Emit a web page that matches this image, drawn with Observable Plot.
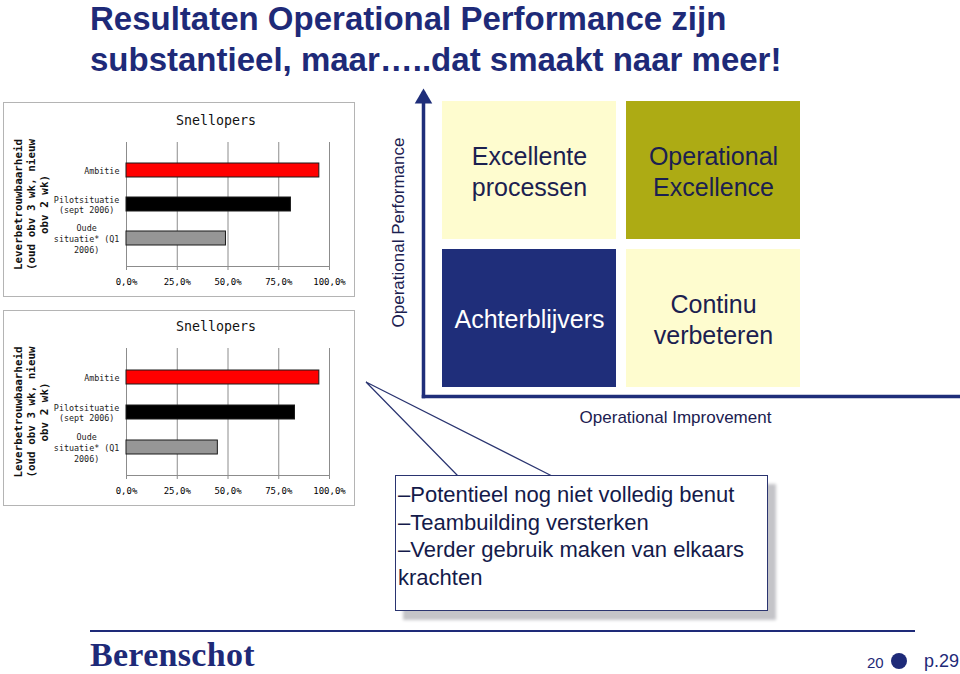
<!DOCTYPE html>
<html><head><meta charset="utf-8">
<script src="https://cdn.jsdelivr.net/npm/d3@7"></script>
<script src="https://cdn.jsdelivr.net/npm/@observablehq/plot@0.6"></script>
<style>
body{margin:0;background:#fff;}
#page{position:relative;width:960px;height:674px;overflow:hidden;font-family:"Liberation Sans",Arial,sans-serif;background:#fff;}
.abs{position:absolute;}
.title{left:90px;font-weight:bold;font-size:33px;line-height:33px;color:#1e2a78;white-space:nowrap;}
.chartbox{position:absolute;left:3px;width:350px;border:1px solid #b4b4b4;background:#fff;}
.chartbox svg{display:block;overflow:visible;}
#quad{left:380px;top:85px;}
#quad svg{overflow:visible;display:block;}
#callout{left:395px;top:475px;width:373px;height:136px;border:1px solid #2a3470;background:#fff;box-shadow:8px 9px 3px #c4c4c8;
  font-size:22px;line-height:27.6px;color:#141a4a;padding:5px 0 0 2px;box-sizing:border-box;z-index:3;}
#footline{left:90px;top:630px;width:825px;height:2px;background:#1e2a78;}
#brand{left:90px;top:638px;font-family:"Liberation Serif","Times New Roman",serif;font-weight:bold;font-size:34px;line-height:34px;color:#1e2a78;letter-spacing:0.3px;}
#pgnum{left:867px;top:654px;font-size:15px;line-height:18px;color:#1e2a78;}
#dot{left:891px;top:653px;width:16px;height:16px;border-radius:50%;background:#1e2a78;}
#pref{left:924px;top:650px;font-size:18px;line-height:22px;color:#1e2a78;}
</style></head>
<body><div id="page">
<div class="abs title" style="top:2px">Resultaten Operational Performance zijn</div>
<div class="abs title" style="top:43px">substantieel, maar…..dat smaakt naar meer!</div>
<div id="box1" class="chartbox" style="top:102px;height:193px;"></div>
<div id="box2" class="chartbox" style="top:310px;height:194px;"></div>
<div id="quad" class="abs"></div>
<svg class="abs" style="left:0;top:0;z-index:2" width="960" height="674"><polygon points="458,476 366,382 552,476" fill="#fff" stroke="#2a3470" stroke-width="1.2"/></svg>
<div id="callout" class="abs">–Potentieel nog niet volledig benut<br>–Teambuilding versterken<br>–Verder gebruik maken van elkaars<br>krachten</div>
<div id="footline" class="abs"></div>
<div id="brand" class="abs">Berenschot</div>
<div id="pgnum" class="abs">20</div>
<div id="dot" class="abs"></div>
<div id="pref" class="abs">p.29</div>
</div>
<script>
// ---- data ----
const categories = ["Ambitie", "Pilotsituatie\n(sept 2006)", "Oude\nsituatie* (Q1\n2006)"];
const chart1Values = [95, 81, 49];
const chart2Values = [95, 83, 45];
const barFills = ["#ff0000", "#000000", "#969696"];
const chartTitle = "Snellopers";
const yAxisLabel = "Leverbetrouwbaarheid\n(oud obv 3 wk, nieuw\nobv 2 wk)";
const xTicks = [0, 25, 50, 75, 100];

const quadNames = ["Excellente\nprocessen", "Operational\nExcellence", "Achterblijvers", "Continu\nverbeteren"];
const quadCol = [0, 1, 0, 1];
const quadRow = [1, 1, 0, 0];
const quadFill = ["#fefccf", "#adab14", "#1f2e7a", "#fefccf"];
const quadInk = ["#1b2050", "#1b2050", "#ffffff", "#1b2050"];
const quadYLabel = "Operational Performance";
const quadXLabel = "Operational Improvement";

// ---- bar charts ----
const fmt = d => d.toFixed(1).replace(".", ",") + "%";
const catFont = 8.4, cw = catFont * 0.602;
const grey = "#8c8c8c";

function barChart(values, height, top) {
  const rows = categories.map((c, i) => ({cat: c, value: values[i], fill: barFills[i]}));
  return Plot.plot({
    width: 350, height,
    marginLeft: 122, marginRight: 25, marginTop: top, marginBottom: 30,
    style: {fontFamily: "'DejaVu Sans Mono', monospace", fontSize: "9px", color: "#000", background: "transparent"},
    x: {domain: [0, 100], axis: null},
    y: {domain: categories, padding: 0.6, axis: null},
    marks: [
      Plot.gridX(xTicks, {stroke: grey, strokeOpacity: 1}),
      Plot.frame({anchor: "bottom", stroke: grey}),
      Plot.ruleX([0], {stroke: grey}),
      Plot.axisX({ticks: xTicks, tickFormat: fmt, tickSize: 4, tickPadding: 8, label: null, stroke: grey, fill: "#000", fontSize: 9}),
      Plot.barX(rows, {x: "value", y: "cat", fill: "fill", stroke: "#1a1a1a", strokeWidth: 1}),
      ...categories.map(c => {
        const L = d3.max(c.split("\n"), s => s.length);
        return Plot.text([c], {y: d => d, text: d => d, frameAnchor: "left", textAnchor: "middle", lineAnchor: "middle",
          dx: -7 - L * cw / 2, fontSize: catFont, lineHeight: 1.3, fill: "#222"});
      }),
      Plot.text([chartTitle], {text: d => d, frameAnchor: "top", textAnchor: "middle", lineAnchor: "middle", dy: -22, dx: -12, fontSize: 13.3, fill: "#111"}),
      Plot.text([yAxisLabel], {text: d => d, frameAnchor: "left", textAnchor: "middle", lineAnchor: "middle", rotate: -90, dx: -95.5, fontSize: 10.9,
        fontWeight: "bold", lineHeight: 1.15, fill: "#111"})
    ]
  });
}
document.getElementById("box1").append(barChart(chart1Values, 193, 39));
document.getElementById("box2").append(barChart(chart2Values, 194, 37));

// ---- quadrant ----
const navy = "#1f2e7a";
const quads = quadNames.map((n, i) => ({name: n, col: quadCol[i], row: quadRow[i], fill: quadFill[i], ink: quadInk[i]}));
const quadPlot = Plot.plot({
  width: 580, height: 345,
  marginLeft: 43, marginRight: 0, marginTop: 8, marginBottom: 34,
  style: {fontFamily: "'Liberation Sans', Arial, sans-serif", background: "transparent"},
  x: {domain: [0, 2], range: [57, 425], axis: null},
  y: {domain: [0, 2], range: [307, 11], axis: null},
  color: {type: "identity"},
  marks: [
    Plot.rect(quads, {x1: "col", x2: d => d.col + 1, y1: "row", y2: d => d.row + 1, inset: 5, fill: "fill"}),
    Plot.text(quads, {x: d => d.col + 0.5, y: d => d.row + 0.5, text: "name", fill: "ink", fontSize: 25, lineHeight: 1.24}),
    Plot.frame({anchor: "left", stroke: navy, strokeWidth: 3.5}),
    Plot.frame({anchor: "bottom", stroke: navy, strokeWidth: 3.5}),
    Plot.dot([0], {frameAnchor: "top-left", symbol: "triangle", r: 6.5, fill: navy, stroke: null, dy: 5}),
    Plot.text([quadYLabel], {text: d => d, frameAnchor: "left", textAnchor: "middle", lineAnchor: "middle", rotate: -90, dx: -25, dy: -12.5, fontSize: 17, fill: "#1b2050"}),
    Plot.text([quadXLabel], {text: d => d, frameAnchor: "bottom", textAnchor: "middle", lineAnchor: "middle", dx: -16.5, dy: 21, fontSize: 17, fill: "#1b2050"})
  ]
});
document.getElementById("quad").append(quadPlot);
</script>
</body></html>
